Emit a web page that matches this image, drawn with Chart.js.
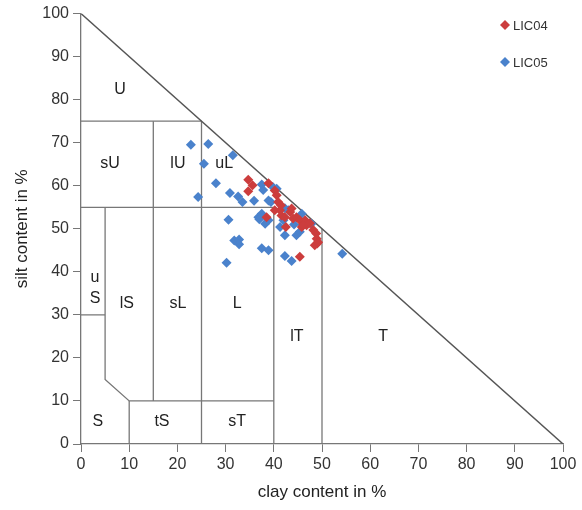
<!DOCTYPE html>
<html>
<head>
<meta charset="utf-8">
<script src="https://cdn.jsdelivr.net/npm/chart.js@4"></script>
<style>
  html, body { margin: 0; padding: 0; background: #fff; }
  #wrap { width: 582px; height: 510px; }
</style>
</head>
<body>
<div id="wrap"><canvas id="chart"></canvas></div>
<script>
// clay / silt content in %
const lic04Clay = [34.7, 35.6, 34.7, 38.9, 40.2, 40.6, 40.9, 40.2, 41.3, 38.5, 41.6, 42.3, 43.4, 43.7, 42.5, 44.0, 44.7, 45.4, 46.5, 46.8, 45.8, 46.1, 48.2, 48.8, 48.9, 49.0, 48.5, 49.2, 45.4, 41.5, 47.5];
const lic04Silt = [61.4, 60.1, 58.7, 60.6, 58.9, 57.8, 56.2, 54.3, 54.3, 52.7, 53.1, 52.7, 53.9, 54.7, 50.4, 52.4, 52.7, 52.0, 52.0, 50.8, 50.4, 50.8, 49.7, 48.9, 47.7, 46.6, 46.2, 46.9, 43.5, 55.5, 51.3];

const lic05Clay = [22.8, 26.4, 25.5, 31.5, 28.0, 24.3, 30.9, 32.6, 33.5, 35.9, 37.5, 37.8, 38.9, 39.8, 39.4, 40.6, 30.6, 36.8, 37.0, 37.5, 38.9, 38.2, 31.8, 32.8, 32.8, 37.5, 38.9, 30.2, 42.3, 43.7, 42.3, 41.3, 42.3, 43.0, 44.7, 45.4, 45.8, 47.8, 46.0, 54.2, 44.2, 42.0];
const lic05Silt = [69.5, 69.7, 65.1, 67.1, 60.6, 57.4, 58.3, 57.5, 56.2, 56.5, 60.3, 59.0, 56.6, 59.7, 56.2, 59.3, 52.1, 52.7, 52.2, 53.5, 52.0, 51.2, 47.3, 47.5, 46.4, 45.5, 45.0, 42.1, 43.7, 42.5, 48.5, 50.4, 54.8, 54.3, 48.5, 49.3, 53.5, 51.2, 51.0, 44.2, 51.0, 52.0];

// texture class boundaries, each as a polyline of [clay, silt]
const boundaries = [
  [[0, 100], [100, 0]],
  [[0, 75], [25, 75]],
  [[0, 55], [40, 55]],
  [[0, 30], [5, 30]],
  [[5, 55], [5, 15], [10, 10], [40, 10]],
  [[10, 0], [10, 10]],
  [[15, 10], [15, 75]],
  [[25, 0], [25, 75]],
  [[40, 0], [40, 55]],
  [[50, 0], [50, 50]]
];

const classNames = ['U', 'sU', 'lU', 'uL', 'u', 'S', 'lS', 'sL', 'L', 'lT', 'T', 'S', 'tS', 'sT'];
const classClay  = [8.1, 6.0, 20.1, 29.7, 2.9, 2.9, 9.5, 20.1, 32.4, 44.8, 62.7, 3.5, 16.8, 32.4];
const classSilt  = [82.4, 65.2, 65.2, 65.2, 38.7, 33.9, 32.7, 32.7, 32.7, 25.0, 25.0, 5.1, 5.1, 5.1];

const seriesNames = ['LIC04', 'LIC05'];
const seriesColors = ['#cc3d3d', '#4a82cc'];

const toPoints = (xs, ys) => xs.map((x, i) => ({ x: x, y: ys[i] }));

const datasets = [
  {
    label: seriesNames[0],
    data: toPoints(lic04Clay, lic04Silt),
    pointStyle: 'rectRot',
    pointRadius: 5,
    pointBorderWidth: 0,
    backgroundColor: seriesColors[0],
    borderColor: seriesColors[0]
  },
  {
    label: seriesNames[1],
    data: toPoints(lic05Clay, lic05Silt),
    pointStyle: 'rectRot',
    pointRadius: 5,
    pointBorderWidth: 0,
    backgroundColor: seriesColors[1],
    borderColor: seriesColors[1]
  }
];

boundaries.forEach((b, i) => {
  datasets.push({
    label: 'b' + i,
    data: b.map(p => ({ x: p[0], y: p[1] })),
    showLine: true,
    pointRadius: 0,
    borderColor: i === 0 ? '#555' : '#777',
    borderWidth: i === 0 ? 1.4 : 1.3,
    fill: false
  });
});

const labelsPlugin = {
  id: 'classLabels',
  afterDatasetsDraw(chart) {
    const { ctx, scales } = chart;
    ctx.save();
    ctx.fillStyle = '#222';
    ctx.font = '16px "Liberation Sans", Arial, sans-serif';
    ctx.textAlign = 'center';
    ctx.textBaseline = 'middle';
    classNames.forEach((t, i) => {
      ctx.fillText(t, scales.x.getPixelForValue(classClay[i]), scales.y.getPixelForValue(classSilt[i]));
    });

    // legend
    ctx.font = '13px "Liberation Sans", Arial, sans-serif';
    ctx.textAlign = 'left';
    const lx = 505, ly = [25, 62];
    seriesNames.forEach((name, i) => {
      const y = ly[i];
      ctx.fillStyle = seriesColors[i];
      ctx.beginPath();
      ctx.moveTo(lx, y - 5);
      ctx.lineTo(lx + 5, y);
      ctx.lineTo(lx, y + 5);
      ctx.lineTo(lx - 5, y);
      ctx.closePath();
      ctx.fill();
      ctx.fillStyle = '#333';
      ctx.fillText(name, lx + 8, y + 1);
    });
    ctx.restore();
  }
};

const font = { family: '"Liberation Sans", Arial, sans-serif', size: 16 };
const titleFont = { family: '"Liberation Sans", Arial, sans-serif', size: 17 };

new Chart(document.getElementById('chart'), {
  type: 'scatter',
  data: { datasets: datasets },
  options: {
    responsive: true,
    maintainAspectRatio: false,
    animation: false,
    layout: { padding: { left: 0, right: 19, top: 13, bottom: 0 } },
    plugins: {
      legend: { display: false },
      tooltip: { enabled: false }
    },
    scales: {
      x: {
        type: 'linear',
        min: 0,
        max: 100,
        ticks: { stepSize: 10, color: '#333', font: font, padding: 3, maxRotation: 0 },
        grid: { drawOnChartArea: false, tickLength: 8, color: '#777' },
        border: { color: '#777', width: 1.3 },
        title: { display: true, text: 'clay content in %', color: '#222', font: titleFont, padding: { top: 0, bottom: 7 } },
        afterFit: (s) => { s.height = 66; }
      },
      y: {
        type: 'linear',
        min: 0,
        max: 100,
        ticks: { stepSize: 10, color: '#333', font: font, padding: 4 },
        grid: { drawOnChartArea: false, tickLength: 8, color: '#777' },
        border: { color: '#777', width: 1.3 },
        title: { display: true, text: 'silt content in %', color: '#222', font: titleFont, padding: { top: 12, bottom: 0 } },
        afterFit: (s) => { s.width = 81; }
      }
    }
  },
  plugins: [labelsPlugin]
});
</script>
</body>
</html>
